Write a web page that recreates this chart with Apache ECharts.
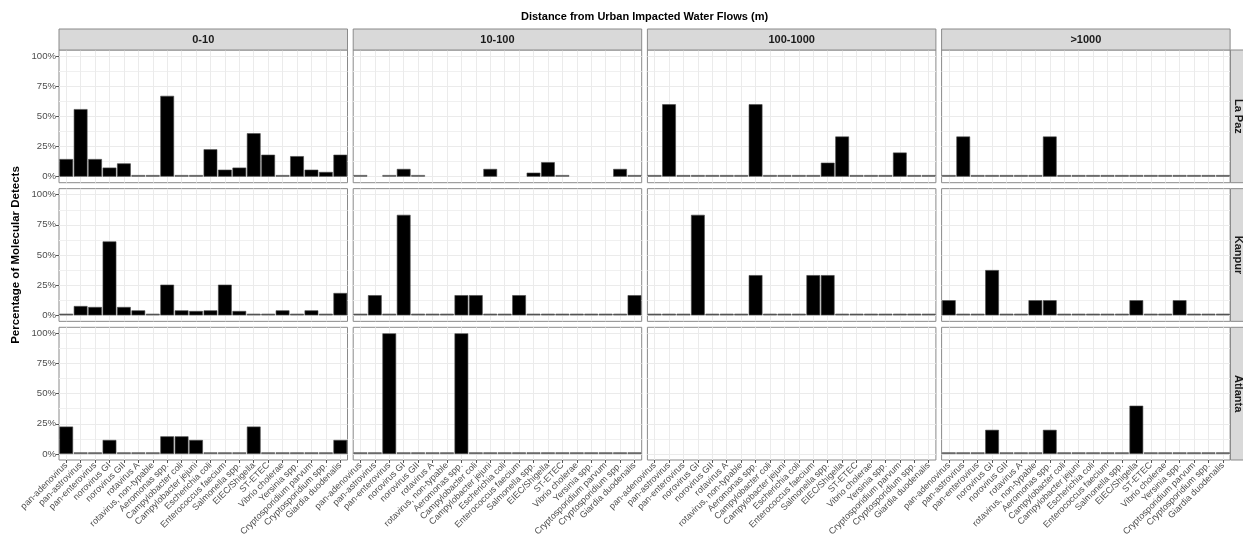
<!DOCTYPE html>
<html>
<head>
<meta charset="utf-8">
<script src="https://cdn.jsdelivr.net/npm/echarts@6/dist/echarts.min.js"></script>
<style>
  html, body { margin: 0; padding: 0; background: #ffffff; }
  #chart { width: 1243px; height: 545px; }
</style>
</head>
<body>
<div id="chart"></div>
<script>
// ---- data -------------------------------------------------------------
const categories = [
  'pan-adenovirus', 'pan-astrovirus', 'pan-enterovirus', 'norovirus GI', 'norovirus GII',
  'rotavirus A', 'rotavirus, non-typable', 'Aeromonas spp.', 'Campylobacter coli',
  'Campylobacter jejuni', 'Escherichia coli', 'Enterococcus faecium', 'Salmonella spp.',
  'EIEC/Shigella', 'ST-ETEC', 'Vibrio cholerae', 'Yersinia spp.', 'Cryptosporidium parvum',
  'Cryptosporidium spp.', 'Giardia duodenalis'
];
const distanceBands = ['0-10', '10-100', '100-1000', '>1000'];
const cities = ['La Paz', 'Kanpur', 'Atlanta'];
const yTickValues = [0, 25, 50, 75, 100];

// percentage of molecular detects per target; null = no samples in that group
const laPaz_0_10      = [14.6, 56, 14.6, 7.5, 11, 0, 0, 67, 0, 0, 22.7, 5.8, 7.5, 36, 18.2, 0, 17, 5.8, 3.9, 18.2];
const laPaz_10_100    = [0, null, 0, 6.4, 0, null, null, null, null, 6.4, null, null, 3.3, 12, 0, null, null, null, 6.4, 0];
const laPaz_100_1000  = [0, 60, 0, 0, 0, 0, 0, 60, 0, 0, 0, 0, 11.6, 33.3, 0, 0, 0, 20, 0, 0];
const laPaz_over1000  = [0, 33.3, 0, 0, 0, 0, 0, 33.3, 0, 0, 0, 0, 0, 0, 0, 0, 0, 0, 0, 0];

const kanpur_0_10     = [0, 7.7, 6.9, 61.3, 6.9, 4.1, 0, 25.4, 4.1, 3.6, 4.1, 25.4, 3.6, 0, 0, 4.1, 0, 4.1, 0, 18.5];
const kanpur_10_100   = [0, 16.7, 0, 83.3, 0, 0, 0, 16.7, 16.7, 0, 0, 16.7, 0, 0, 0, 0, 0, 0, 0, 16.7];
const kanpur_100_1000 = [0, 0, 0, 83.3, 0, 0, 0, 33.3, 0, 0, 0, 33.3, 33.3, 0, 0, 0, 0, 0, 0, 0];
const kanpur_over1000 = [12.5, 0, 0, 37.5, 0, 0, 12.5, 12.5, 0, 0, 0, 0, 0, 12.5, 0, 0, 12.5, 0, 0, 0];

const atlanta_0_10     = [22.7, 0, 0, 11.6, 0, 0, 0, 14.6, 14.6, 11.6, 0, 0, 0, 22.7, 0, 0, 0, 0, 0, 11.6];
const atlanta_10_100   = [0, 0, 100, 0, 0, 0, 0, 100, 0, 0, 0, 0, 0, 0, 0, 0, 0, 0, 0, 0];
const atlanta_100_1000 = [null, null, null, null, null, null, null, null, null, null, null, null, null, null, null, null, null, null, null, null];
const atlanta_over1000 = [0, 0, 0, 20, 0, 0, 0, 20, 0, 0, 0, 0, 0, 40, 0, 0, 0, 0, 0, 0];

const panelValues = [
  [laPaz_0_10, laPaz_10_100, laPaz_100_1000, laPaz_over1000],
  [kanpur_0_10, kanpur_10_100, kanpur_100_1000, kanpur_over1000],
  [atlanta_0_10, atlanta_10_100, atlanta_100_1000, atlanta_over1000]
];

// ---- layout / style -----------------------------------------------------
const FONT = "'Liberation Sans', Arial, Helvetica, sans-serif";
const colLeft0 = 59, colStep = 294.2, panelW = 288.5;
const rowTop0 = 50, rowStep = 138.65, panelH = 132.7;
const padY = panelH * 5 / 110;          // 5% expansion above and below 0-100
const stripH = 21;
const rightStripX = 1230.5;
const borderColor = '#8a8a8a';
const gridColor = '#EBEBEB';
const minorGridColor = '#F0F0F0';
const tickColor = '#555555';
const labelColor = '#4D4D4D';

const grid = [], xAxis = [], yAxis = [], series = [], graphic = [];

cities.forEach((city, r) => {
  distanceBands.forEach((band, c) => {
    const left = colLeft0 + c * colStep;
    const top = rowTop0 + r * rowStep;
    const frameIdx = grid.length;

    // panel frame: background, border and vertical grid lines
    grid.push({
      left: left, top: top, width: panelW, height: panelH,
      show: true, backgroundColor: '#ffffff', borderColor: borderColor, borderWidth: 1,
      containLabel: false
    });
    xAxis.push({
      gridIndex: frameIdx, type: 'category', data: categories, boundaryGap: true,
      axisLine: { show: false },
      axisTick: { show: r === cities.length - 1, alignWithLabel: true, length: 3,
                  lineStyle: { color: tickColor, width: 1 } },
      axisLabel: { show: r === cities.length - 1, interval: 0, rotate: 45, margin: 4,
                   fontSize: 9, color: labelColor, fontFamily: FONT },
      splitLine: { show: true, alignWithLabel: true, interval: 0,
                   lineStyle: { color: gridColor, width: 1 } }
    });
    yAxis.push({ gridIndex: frameIdx, type: 'value', min: 0, max: 1, show: false });

    // data area: 0-100 %, inset by the 5% expansion
    const plotIdx = grid.length;
    grid.push({ left: left, top: top + padY, width: panelW, height: panelH - 2 * padY, show: false });
    xAxis.push({ gridIndex: plotIdx, type: 'category', data: categories, boundaryGap: true, show: false });
    yAxis.push({
      gridIndex: plotIdx, type: 'value', min: yTickValues[0], max: yTickValues[yTickValues.length - 1],
      interval: 25,
      axisLine: { show: false },
      axisTick: { show: c === 0, length: 3, lineStyle: { color: tickColor, width: 1 } },
      axisLabel: { show: c === 0, formatter: '{value}%', margin: 3, fontSize: 9.6,
                   color: labelColor, fontFamily: FONT },
      splitLine: { show: true, lineStyle: { color: gridColor, width: 1 } },
      minorTick: { show: false, splitNumber: 2 },
      minorSplitLine: { show: true, lineStyle: { color: minorGridColor, width: 1 } }
    });

    series.push({
      type: 'bar', name: city + ' ' + band,
      xAxisIndex: plotIdx, yAxisIndex: plotIdx,
      data: panelValues[r][c],
      barCategoryGap: '5%', barMinHeight: 1.6,
      silent: true,
      itemStyle: {
        color: p => (p.value === 0 ? '#5e5e5e' : '#000000'),
        borderColor: '#4a4a4a', borderWidth: 0.6
      }
    });

    // column strip
    if (r === 0) {
      graphic.push({
        type: 'rect', shape: { x: left, y: top - stripH, width: panelW, height: stripH },
        style: { fill: '#D9D9D9', stroke: borderColor, lineWidth: 1 }, z: 10
      });
      graphic.push({
        type: 'text', x: left + panelW / 2, y: top - stripH / 2 + 0.5, z: 11,
        style: { text: band, fill: '#1A1A1A', fontSize: 11, fontWeight: 'bold', fontFamily: FONT,
                 align: 'center', verticalAlign: 'middle' }
      });
    }
    // row strip
    if (c === distanceBands.length - 1) {
      graphic.push({
        type: 'rect', shape: { x: rightStripX, y: top, width: stripH, height: panelH },
        style: { fill: '#D9D9D9', stroke: borderColor, lineWidth: 1 }, z: 10
      });
      graphic.push({
        type: 'text', x: rightStripX + 8, y: top + panelH / 2, rotation: -Math.PI / 2, z: 11,
        style: { text: city, fill: '#1A1A1A', fontSize: 11, fontWeight: 'bold', fontFamily: FONT,
                 align: 'center', verticalAlign: 'middle' }
      });
    }
  });
});

// overall titles
const panelsCenterX = colLeft0 + (colStep * (distanceBands.length - 1) + panelW) / 2;
const panelsCenterY = rowTop0 + (rowStep * (cities.length - 1) + panelH) / 2;
graphic.push({
  type: 'text', x: panelsCenterX, y: 17, z: 11,
  style: { text: 'Distance from Urban Impacted Water Flows (m)', fill: '#000000', fontSize: 11,
           fontWeight: 'bold', fontFamily: FONT, align: 'center', verticalAlign: 'middle' }
});
graphic.push({
  type: 'text', x: 16, y: panelsCenterY, rotation: Math.PI / 2, z: 11,
  style: { text: 'Percentage of Molecular Detects', fill: '#000000', fontSize: 11.5,
           fontWeight: 'bold', fontFamily: FONT, align: 'center', verticalAlign: 'middle' }
});

const chart = echarts.init(document.getElementById('chart'), null, { renderer: 'canvas' });
chart.setOption({
  backgroundColor: '#ffffff',
  animation: false,
  textStyle: { fontFamily: FONT },
  grid: grid,
  xAxis: xAxis,
  yAxis: yAxis,
  series: series,
  graphic: graphic
});
</script>
</body>
</html>
